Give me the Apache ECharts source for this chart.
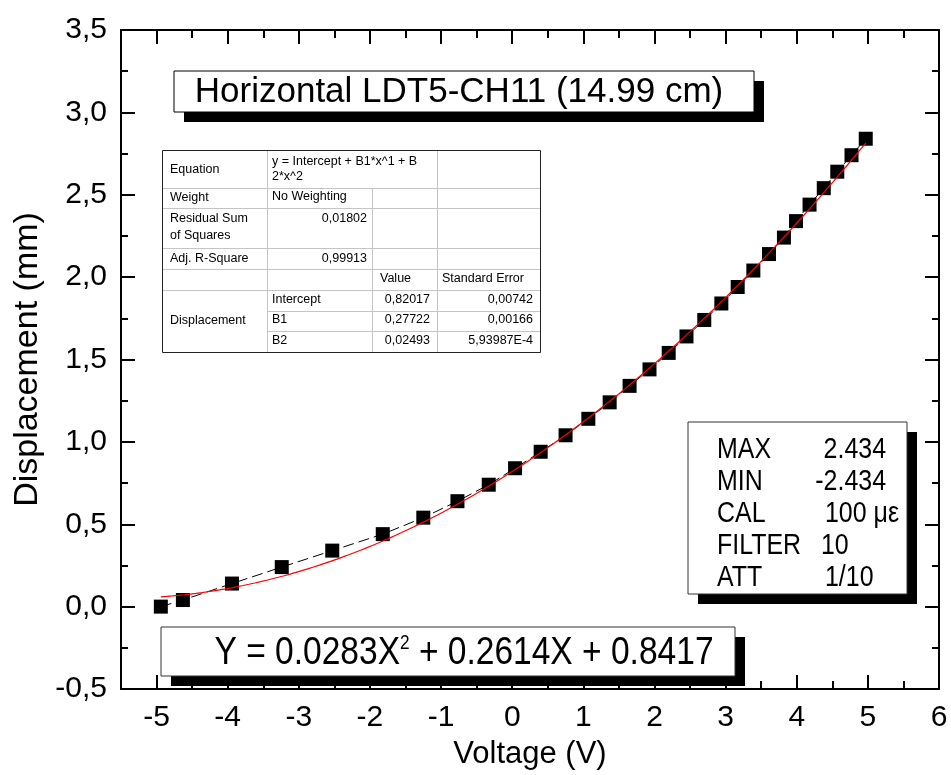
<!DOCTYPE html>
<html>
<head>
<meta charset="utf-8">
<script src="https://cdn.jsdelivr.net/npm/echarts@6/dist/echarts.min.js"></script>
<style>
  html, body { margin: 0; padding: 0; background: #fff; }
  #chart { width: 951px; height: 775px; }
</style>
</head>
<body>
<div id="chart"></div>
<script>
// Calibration points: applied voltage (V) and measured displacement (mm)
const voltage = [-4.94, -4.63, -3.94, -3.24, -2.53, -1.82, -1.25, -0.77, -0.33, 0.04,
                 0.40, 0.75, 1.07, 1.37, 1.65, 1.93, 2.20, 2.45, 2.70, 2.94,
                 3.17, 3.39, 3.61, 3.82, 3.99, 4.18, 4.38, 4.57, 4.77, 4.97];
const displacement = [0.00, 0.04, 0.14, 0.24, 0.34, 0.44, 0.54, 0.64, 0.74, 0.84,
                      0.94, 1.04, 1.14, 1.24, 1.34, 1.44, 1.54, 1.64, 1.74, 1.84,
                      1.94, 2.04, 2.14, 2.24, 2.34, 2.44, 2.54, 2.64, 2.74, 2.84];

// Polynomial fit (order 2) results
const fitNames = ['Intercept', 'B1', 'B2'];
const fitValues = [0.82017, 0.27722, 0.02493];
const fitErrors = [0.00742, 0.00166, 5.93987e-4];
const residualSumSquares = 0.01802;
const adjRSquare = 0.99913;

// Axis ticks
const xMajorTicks = [-5, -4, -3, -2, -1, 0, 1, 2, 3, 4, 5, 6];
const xMinorTicks = [-5.5, -4.5, -3.5, -2.5, -1.5, -0.5, 0.5, 1.5, 2.5, 3.5, 4.5, 5.5];

// Instrument settings
const settingNames = ['MAX', 'MIN', 'CAL', 'FILTER', 'ATT'];
const settingValues = ['2.434', '-2.434', '100 \u03bc\u03b5', '10', '1/10'];

const titleText = 'Horizontal LDT5-CH11 (14.99 cm)';

const FONT = '"Liberation Sans", Arial, Helvetica, sans-serif';

function fmtNum(v) {
  if (Math.abs(v) < 0.001) {
    return v.toExponential(5).replace('.', ',').replace('e', 'E');
  }
  return v.toFixed(5).replace('.', ',');
}

const measured = voltage.map((v, i) => [v, displacement[i]]);

// Fitted curve evaluated from the fit coefficients across the measured range
const fitCurve = [];
{
  const x0 = voltage[0], x1 = voltage[voltage.length - 1], n = 120;
  for (let i = 0; i <= n; i++) {
    const x = x0 + (x1 - x0) * i / n;
    fitCurve.push([x, fitValues[0] + fitValues[1] * x + fitValues[2] * x * x]);
  }
}

// ---------- annotation graphics ----------
const graphics = [];

function shadowBox(x, y, w, h, off, stroke) {
  graphics.push({ type: 'rect', z: 100, shape: { x: x + off, y: y + off, width: w, height: h },
                  style: { fill: '#000' } });
  graphics.push({ type: 'rect', z: 101, shape: { x: x, y: y, width: w, height: h },
                  style: { fill: '#fff', stroke: stroke, lineWidth: 1 } });
}

function txt(text, x, y, opts) {
  opts = opts || {};
  graphics.push({
    type: 'text', z: 105, x: x, y: y, scaleX: opts.scaleX || 1,
    style: {
      text: text, fill: '#000',
      font: (opts.size || 12.5) + 'px ' + FONT,
      align: opts.align || 'left', verticalAlign: 'middle',
      rich: opts.rich
    }
  });
}

// Title box
shadowBox(174, 71, 580, 41, 10, '#000');
txt(titleText, 459, 92, { size: 35, align: 'center' });

// Fit results table
(function () {
  const L = 162, T = 150, R = 540, B = 352;
  const c1 = 267, c2 = 372, c3 = 437;
  graphics.push({ type: 'rect', z: 101, shape: { x: L, y: T, width: R - L, height: B - T },
                  style: { fill: '#fff' } });
  const grey = '#c4c4c4';
  const line = (x1, y1, x2, y2, c) => graphics.push({ type: 'line', z: 102,
      shape: { x1: x1, y1: y1, x2: x2, y2: y2 }, style: { stroke: c, lineWidth: 1 } });
  [188, 208, 248, 269, 290].forEach(y => line(L, y + 0.5, R, y + 0.5, grey));
  [311, 331].forEach(y => line(c1, y + 0.5, R, y + 0.5, grey));
  line(c1 + 0.5, T, c1 + 0.5, B, grey);
  line(c2 + 0.5, 188, c2 + 0.5, B, grey);
  line(c3 + 0.5, T, c3 + 0.5, B, grey);
  graphics.push({ type: 'rect', z: 103, shape: { x: L + 0.5, y: T + 0.5, width: R - L, height: B - T },
                  style: { fill: 'none', stroke: '#222', lineWidth: 1 } });

  const lx = 170, vx = 272;
  txt('Equation', lx, 170);
  txt('y = Intercept + B1*x^1 + B', vx, 162);
  txt('2*x^2', vx, 177);
  txt('Weight', lx, 198);
  txt('No Weighting', vx, 197);
  txt('Residual Sum', lx, 219);
  txt('of Squares', lx, 236);
  txt(fmtNum(residualSumSquares), 367, 219, { align: 'right' });
  txt('Adj. R-Square', lx, 259);
  txt(fmtNum(adjRSquare), 367, 259, { align: 'right' });
  txt('Value', 380, 279);
  txt('Standard Error', 442, 279);
  txt('Displacement', lx, 321);
  const ry = [300, 320, 341];
  fitNames.forEach((nm, i) => {
    txt(nm, vx, ry[i]);
    txt(fmtNum(fitValues[i]), 430, ry[i], { align: 'right' });
    txt(fmtNum(fitErrors[i]), 533, ry[i], { align: 'right' });
  });
})();

// Instrument settings box
shadowBox(688, 422, 219, 172, 10, '#333');
(function () {
  const ys = [450, 482, 514, 546, 578];
  const valueX = [886, 886, 825, 821, 825];
  const valueAlign = ['right', 'right', 'left', 'left', 'left'];
  settingNames.forEach((nm, i) => {
    txt(nm, 717, ys[i], { size: 29, scaleX: 0.86 });
    txt(settingValues[i], valueX[i], ys[i], { size: 29, scaleX: 0.86, align: valueAlign[i] });
  });
})();

// Empirical equation box
shadowBox(161, 627, 574, 49, 10, '#333');
txt('{a|Y = 0.0283X}{s|2}{a| + 0.2614X + 0.8417}', 464, 653, {
  size: 39, scaleX: 0.86, align: 'center',
  rich: {
    a: { fontSize: 39, fontFamily: FONT, fill: '#000', verticalAlign: 'middle' },
    s: { fontSize: 20, fontFamily: FONT, fill: '#000', verticalAlign: 'top', padding: [0, 0, 18, 0] }
  }
});

// ---------- chart ----------
const tickLine = { color: '#000', width: 2 };
const baseX = { type: 'value', min: -5.5, max: 6, splitLine: { show: false } };
const baseY = { type: 'value', min: -0.5, max: 3.5, interval: 0.5, splitLine: { show: false } };

const chart = echarts.init(document.getElementById('chart'), null, { renderer: 'canvas' });
chart.setOption({
  backgroundColor: '#fff',
  animation: false,
  grid: { left: 121, top: 30, right: 12, bottom: 83, containLabel: false },
  graphic: graphics,
  xAxis: [
    Object.assign({}, baseX, {
      position: 'bottom',
      axisLine: { show: true, onZero: false, lineStyle: tickLine },
      axisTick: { show: true, inside: true, length: 14, customValues: xMajorTicks, lineStyle: tickLine },
      axisLabel: { customValues: xMajorTicks, fontSize: 30, color: '#000', fontFamily: FONT, margin: 14 },
      name: 'Voltage (V)', nameLocation: 'middle', nameGap: 50,
      nameTextStyle: { fontSize: 31, color: '#000', fontFamily: FONT }
    }),
    Object.assign({}, baseX, {
      position: 'bottom',
      axisLine: { show: false, onZero: false },
      axisTick: { show: true, inside: true, length: 8, customValues: xMinorTicks, lineStyle: tickLine },
      axisLabel: { show: false }
    }),
    Object.assign({}, baseX, {
      position: 'top',
      axisLine: { show: true, onZero: false, lineStyle: tickLine },
      axisTick: { show: true, inside: true, length: 14, customValues: xMajorTicks, lineStyle: tickLine },
      axisLabel: { show: false }
    }),
    Object.assign({}, baseX, {
      position: 'top',
      axisLine: { show: false, onZero: false },
      axisTick: { show: true, inside: true, length: 8, customValues: xMinorTicks, lineStyle: tickLine },
      axisLabel: { show: false }
    })
  ],
  yAxis: [
    Object.assign({}, baseY, {
      position: 'left',
      axisLine: { show: true, onZero: false, lineStyle: tickLine },
      axisTick: { show: true, inside: true, length: 14, lineStyle: tickLine },
      minorTick: { show: true, splitNumber: 2, length: 7, lineStyle: tickLine },
      axisLabel: { fontSize: 30, color: '#000', fontFamily: FONT, margin: 14,
                   formatter: v => v.toFixed(1).replace('.', ',') },
      name: 'Displacement (mm)', nameLocation: 'middle', nameGap: 76, nameRotate: 90,
      nameTextStyle: { fontSize: 34, color: '#000', fontFamily: FONT }
    }),
    Object.assign({}, baseY, {
      position: 'right',
      axisLine: { show: true, onZero: false, lineStyle: tickLine },
      axisTick: { show: true, inside: true, length: 14, lineStyle: tickLine },
      minorTick: { show: true, splitNumber: 2, length: 7, lineStyle: tickLine },
      axisLabel: { show: false }
    })
  ],
  series: [
    {
      name: 'Displacement', type: 'line', xAxisIndex: 0, yAxisIndex: 0,
      data: measured, symbol: 'rect', symbolSize: 14,
      itemStyle: { color: '#000' },
      lineStyle: { color: '#000', width: 1, type: [11, 5] },
      z: 3
    },
    {
      name: 'Polynomial fit', type: 'line', xAxisIndex: 0, yAxisIndex: 0,
      data: fitCurve, showSymbol: false, symbol: 'none',
      lineStyle: { color: '#ff0000', width: 1.2 },
      z: 4
    }
  ]
});
</script>
</body>
</html>
